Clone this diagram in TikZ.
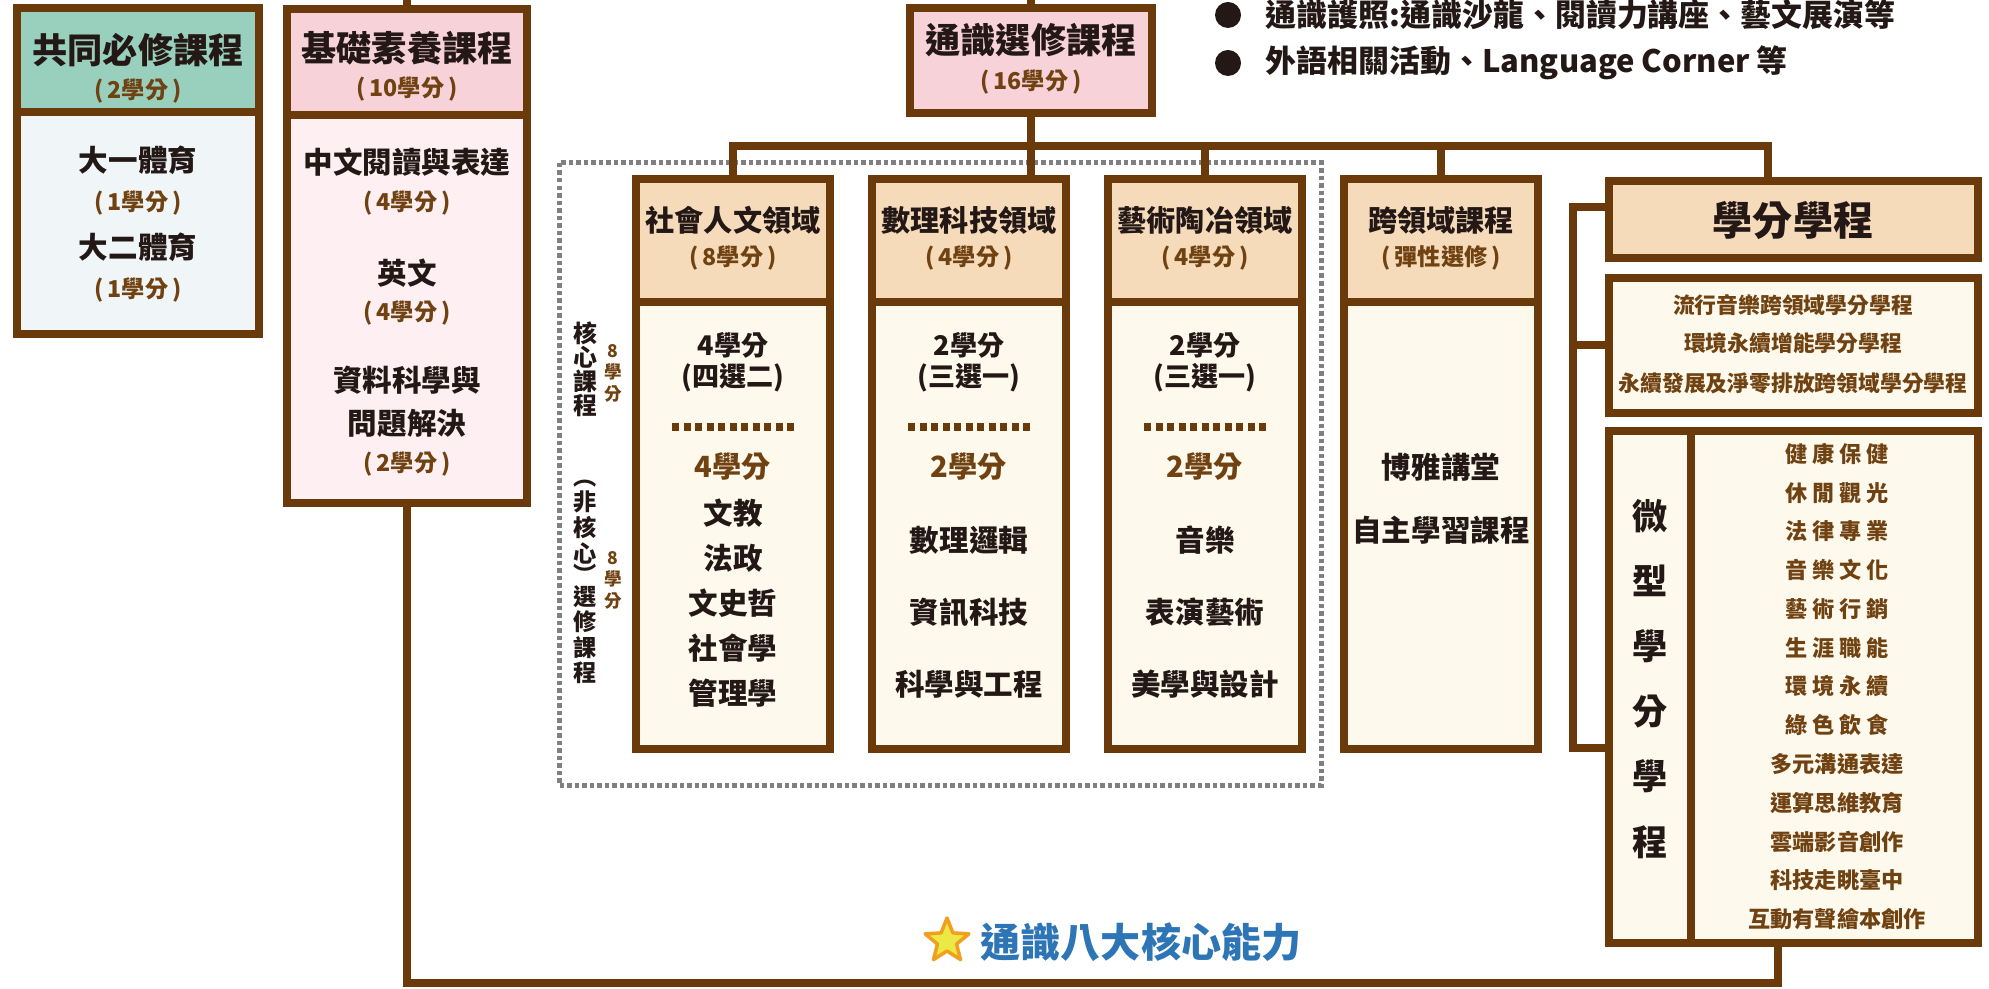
\documentclass[tikz,border=0pt]{standalone}
\usepackage{fontspec}
\setmainfont{Noto Sans CJK TC}
\usetikzlibrary{shapes.geometric}

\definecolor{brn}{RGB}{107,58,10}
\definecolor{tbrn}{RGB}{112,66,18}
\definecolor{ink}{RGB}{35,24,21}
\definecolor{tealh}{RGB}{152,207,189}
\definecolor{blueb}{RGB}{240,246,248}
\definecolor{pinkh}{RGB}{247,211,217}
\definecolor{pinkb}{RGB}{253,239,242}
\definecolor{tanh}{RGB}{245,219,186}
\definecolor{cream}{RGB}{253,249,237}
\definecolor{dgray}{RGB}{128,128,128}
\definecolor{blu}{RGB}{46,117,182}
\definecolor{stary}{RGB}{236,232,70}
\definecolor{staro}{RGB}{240,160,30}
\newcommand{\gp}{\hspace{.23em}}
\newcommand{\crdt}[1]{(\,#1\,)}

\begin{document}
\begin{tikzpicture}[x=0.01cm,y=-0.01cm,
  every node/.style={inner sep=0pt,text=ink},
  cbox/.style={draw=brn,line width=0.08cm,rectangle},
  lnk/.style={draw=brn,line width=0.08cm},
  dashbox/.style={draw=dgray,line width=0.05cm,dash pattern=on 0.045cm off 0.03cm},
  dotsep/.style={draw=brn,line width=0.08cm,dash pattern=on 0.07cm off 0.045cm},
  ttl/.style={font=\fontsize{10}{12}\selectfont\bfseries},
  crd/.style={font=\fontsize{6.6}{8}\selectfont\bfseries,text=tbrn},
  itm/.style={font=\fontsize{8.4}{10}\selectfont\bfseries},
  hdr/.style={font=\fontsize{8.3}{10}\selectfont\bfseries},
  sub/.style={font=\fontsize{7.7}{9}\selectfont\bfseries},
  subb/.style={font=\fontsize{8.3}{10}\selectfont\bfseries,text=tbrn},
  vt/.style={font=\fontsize{6.8}{6.83}\selectfont\bfseries,align=center},
  vtl/.style={font=\fontsize{6.6}{6.1}\selectfont\bfseries,align=center},
  vc/.style={font=\fontsize{5}{6.1}\selectfont\bfseries,text=tbrn,align=center},
  lst/.style={font=\fontsize{6.2}{7}\selectfont\bfseries,text=tbrn},
  mls/.style={font=\fontsize{6.3}{7}\selectfont\bfseries,text=tbrn},
  mvt/.style={font=\fontsize{10}{18.5}\selectfont\bfseries,align=center},
  big/.style={font=\fontsize{11.4}{13}\selectfont\bfseries},
  bul/.style={font=\fontsize{8.8}{10}\selectfont\bfseries}]
\useasboundingbox (0,0) rectangle (1989,989);

% dotted frame round the three fields
\draw[dashbox] (559,163) rectangle (1321,785);

% boxes
\node[cbox,fill=tealh,minimum width=2.42cm,minimum height=1.04cm] (ah) at (138,60) {};
\node[cbox,fill=blueb,minimum width=2.42cm,minimum height=2.22cm] (ab) at (138,223) {};
\node[cbox,fill=pinkh,minimum width=2.40cm,minimum height=1.06cm] (bh) at (407,62) {};
\node[cbox,fill=pinkb,minimum width=2.40cm,minimum height=3.88cm] (bb) at (407,309) {};
\node[cbox,fill=pinkh,minimum width=2.42cm,minimum height=1.05cm] (ch) at (1031,60.5) {};
\foreach \cx/\k in {733/1,969/2,1205/3,1441/4} {
  \node[cbox,fill=tanh,minimum width=1.94cm,minimum height=1.23cm] (colh\k) at (\cx,240.5) {};
  \node[cbox,fill=cream,minimum width=1.94cm,minimum height=4.47cm] (colb\k) at (\cx,525.5) {};
}
\node[cbox,fill=tanh,minimum width=3.69cm,minimum height=0.77cm] (dh) at (1793.5,219.5) {};
\node[cbox,fill=cream,minimum width=3.69cm,minimum height=1.35cm] (eb) at (1793.5,345.5) {};
\node[cbox,fill=cream,minimum width=0.82cm,minimum height=5.12cm] (fl) at (1650,687) {};
\node[cbox,fill=cream,minimum width=2.87cm,minimum height=5.12cm] (fr) at (1834.5,687) {};

% connectors
\coordinate (btop) at (407,0);
\coordinate (ctop) at (1031,0);
\coordinate (bus) at (731,146);
\coordinate (bend) at (1768,146);
\coordinate (brt) at (1573,207);
\coordinate (brb) at (1573,748);
\coordinate (lp) at (1778,983);
\draw[lnk] (bh.north) -- (btop);
\draw[lnk] (ch.north) -- (ctop);
\draw[lnk] (colh1.north) -- (colh1.north |- bus) -- (bend) -- (bend |- dh.north);
\draw[lnk] (ch.south) -- (ch.south |- colh2.north);
\draw[lnk] (colh3.north) -- (colh3.north |- bus);
\draw[lnk] (colh4.north) -- (colh4.north |- bus);
\draw[lnk] (brt -| dh.west) -- (brt) -- (brb) -- (brb -| fl.west);
\draw[lnk] (eb.west) -- (eb.west -| brt);
\draw[lnk] (bb.south) |- (lp) -- (lp |- fr.south);

% required courses
\node[ttl] (at1) at (138,50) {共同必修課程};
\node[crd] (at2) at (138,91) {\crdt{2學分}};
\node[itm] (at3) at (138,160) {大一體育};
\node[crd] (at4) at (138,203) {\crdt{1學分}};
\node[itm] (at5) at (138,247) {大二體育};
\node[crd] (at6) at (138,290) {\crdt{1學分}};

% basic literacy
\node[ttl] (bt1) at (407,48) {基礎素養課程};
\node[crd] (bt2) at (407,89) {\crdt{10學分}};
\node[itm] (bt3) at (407,162) {中文閱讀與表達};
\node[crd] (bt4) at (407,203) {\crdt{4學分}};
\node[itm] (bt5) at (407,273) {英文};
\node[crd] (bt6) at (407,313) {\crdt{4學分}};
\node[itm] (bt7) at (407,380) {資料科學與};
\node[itm] (bt8) at (407,423) {問題解決};
\node[crd] (bt9) at (407,464) {\crdt{2學分}};

% general electives
\node[ttl] (ct1) at (1031,40) {通識選修課程};
\node[crd] (ct2) at (1031,82) {\crdt{16學分}};

% field headers
\node[hdr] (h1) at (733,220) {社會人文領域};
\node[crd] (h1c) at (733,258) {\crdt{8學分}};
\node[hdr] (h2) at (969,220) {數理科技領域};
\node[crd] (h2c) at (969,258) {\crdt{4學分}};
\node[hdr] (h3) at (1205,220) {藝術陶冶領域};
\node[crd] (h3c) at (1205,258) {\crdt{4學分}};
\node[hdr] (h4) at (1441,220) {跨領域課程};
\node[crd] (h4c) at (1441,258) {\crdt{彈性選修}};

% field contents
\foreach \cx in {733,969,1205}
  \draw[dotsep] ({\cx-61},427) -- ({\cx+61},427);
\node[sub] (p1a) at (733,345) {4學分};
\node[sub] (p1b) at (733,378) {(四選二)};
\node[subb] (p1c) at (733,467) {4學分};
\node[itm] (p1d) at (733,513) {文教};
\node[itm] (p1e) at (733,558) {法政};
\node[itm] (p1f) at (733,603) {文史哲};
\node[itm] (p1g) at (733,648) {社會學};
\node[itm] (p1h) at (733,693) {管理學};
\node[sub] (p2a) at (969,345) {2學分};
\node[sub] (p2b) at (969,378) {(三選一)};
\node[subb] (p2c) at (969,467) {2學分};
\node[itm] (p2d) at (969,540) {數理邏輯};
\node[itm] (p2e) at (969,612) {資訊科技};
\node[itm] (p2f) at (969,684) {科學與工程};
\node[sub] (p3a) at (1205,345) {2學分};
\node[sub] (p3b) at (1205,378) {(三選一)};
\node[subb] (p3c) at (1205,467) {2學分};
\node[itm] (p3d) at (1205,540) {音樂};
\node[itm] (p3e) at (1205,612) {表演藝術};
\node[itm] (p3f) at (1205,684) {美學與設計};
\node[itm] (p4a) at (1441,467) {博雅講堂};
\node[itm] (p4b) at (1441,530) {自主學習課程};

% side labels
\node[vt] (core) at (585,369) {核\\心\\課\\程};
\node[vc] (core8) at (613,373) {8\\學\\分};
\node[vtl] (ncore) at (585,582) {︵\\非\\核\\心\\︶\\選\\修\\課\\程};
\node[vc] (ncore8) at (613,580) {8\\學\\分};

% programs
\node[big] (dt) at (1793,220) {學分學程};
\node[lst] (e1) at (1793,305) {流行音樂跨領域學分學程};
\node[lst] (e2) at (1793,343) {環境永續增能學分學程};
\node[lst] (e3) at (1793,383) {永續發展及淨零排放跨領域學分學程};
\node[mvt] (fm) at (1650,679) {微\\型\\學\\分\\學\\程};
\foreach \t [count=\i from 0] in {健\gp{}康\gp{}保\gp{}健,休\gp{}閒\gp{}觀\gp{}光,法\gp{}律\gp{}專\gp{}業,音\gp{}樂\gp{}文\gp{}化,藝\gp{}術\gp{}行\gp{}銷,生\gp{}涯\gp{}職\gp{}能,環\gp{}境\gp{}永\gp{}續,綠\gp{}色\gp{}飲\gp{}食,多元溝通表達,運算思維教育,雲端影音創作,科技走眺臺中,互動有聲繪本創作}
  \node[mls] (m\i) at (1837,{454+38.75*\i}) {\t};

% activities
\node[circle,fill=ink,minimum size=0.26cm] (d1) at (1228,15) {};
\node[circle,fill=ink,minimum size=0.26cm] (d2) at (1228,63) {};
\node[bul,anchor=west] (a1) at (1265,15) {通識護照:通識沙龍、閱讀力講座、藝文展演等};
\node[bul,anchor=west] (a2) at (1265,63) {外語相關活動、Language Corner 等};

% core abilities
\node[star,star points=5,star point ratio=2.3,fill=stary,draw=staro,line width=0.035cm,line join=round,minimum size=0.46cm] (st) at (947,941) {};
\node[big,text=blu,anchor=west] (ab8) at (980,942) {通識八大核心能力};
\end{tikzpicture}
\end{document}
